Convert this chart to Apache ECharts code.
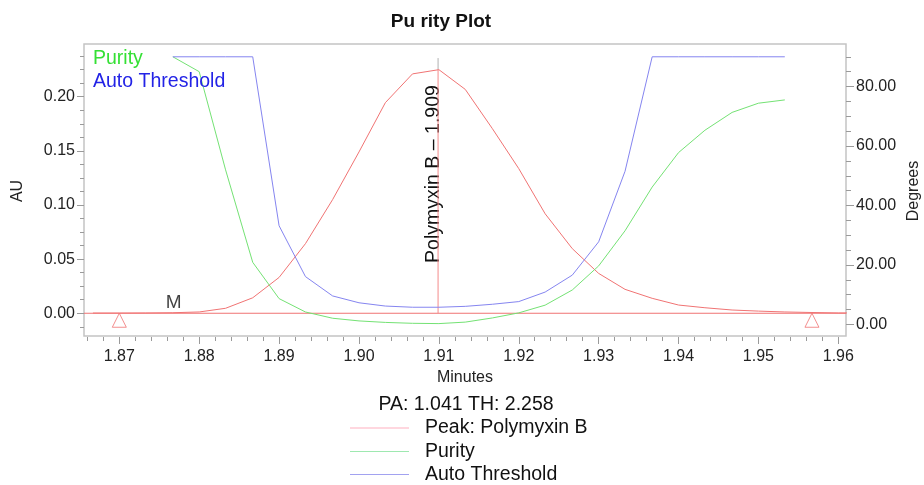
<!DOCTYPE html>
<html>
<head>
<meta charset="utf-8">
<script src="https://cdn.jsdelivr.net/npm/echarts@6/dist/echarts.min.js"></script>
<style>
html,body{margin:0;padding:0;background:#fff;}
#chart{width:924px;height:485px;}
</style>
</head>
<body>
<div id="chart"></div>
<script>
// ---- data ----
const minutes = [1.8667, 1.8700, 1.8733, 1.8767, 1.8800, 1.8833, 1.8867, 1.8900, 1.8933, 1.8967,
                 1.9000, 1.9033, 1.9067, 1.9100, 1.9133, 1.9167, 1.9200, 1.9233, 1.9267, 1.9300,
                 1.9333, 1.9367, 1.9400, 1.9433, 1.9467, 1.9500, 1.9533, 1.9567, 1.9600, 1.9633];
const peakAU = [0.0002, 0.0002, 0.0003, 0.0005, 0.0012, 0.0046, 0.0143, 0.0331, 0.0643, 0.1050,
                0.1490, 0.1945, 0.2211, 0.2250, 0.2068, 0.1705, 0.1336, 0.0919, 0.0597, 0.0368,
                0.0221, 0.0138, 0.0076, 0.0051, 0.0030, 0.0020, 0.0012, 0.0007, 0.0003, 0.0002];
const angleMinutes = [1.8767, 1.8800, 1.8833, 1.8867, 1.8900, 1.8933, 1.8967, 1.9000, 1.9033, 1.9067,
                      1.9100, 1.9133, 1.9167, 1.9200, 1.9233, 1.9267, 1.9300, 1.9333, 1.9367, 1.9400,
                      1.9433, 1.9467, 1.9500, 1.9533];
const purityDeg = [90.0, 85.0, 52.0, 20.9, 8.7, 4.2, 2.1, 1.2, 0.7, 0.4,
                   0.3, 0.8, 2.2, 3.9, 6.5, 11.6, 19.7, 31.5, 46.2, 57.8,
                   65.3, 71.3, 74.4, 75.5];
const thresholdDeg = [90, 90, 90, 90, 33.2, 16.1, 9.6, 7.3, 6.2, 5.8,
                      5.8, 6.1, 6.8, 7.7, 10.9, 16.6, 27.8, 51.5, 90, 90,
                      90, 90, 90, 90];
const peakName = 'Peak: Polymyxin B';
const purityName = 'Purity';
const thresholdName = 'Auto Threshold';
const retentionTime = 1.9099;
const peakLabel = 'Polymyxin B \u2013 1.909';
const peakApexAU = 0.2250;
const retentionLineTopAU = 0.2357;
const peakStartEnd = [1.8700, 1.9567];
const markerLabelMinute = 1.8768;
const markerLabel = 'M';
const statsText = 'PA: 1.041 TH: 2.258';
const titleText = 'Pu rity Plot';
const xMajorTicks = [1.87, 1.88, 1.89, 1.90, 1.91, 1.92, 1.93, 1.94, 1.95, 1.96];
const xMinorTicks = [1.866, 1.868, 1.870, 1.872, 1.874, 1.876, 1.878, 1.880, 1.882, 1.884, 1.886, 1.888,
                     1.890, 1.892, 1.894, 1.896, 1.898, 1.900, 1.902, 1.904, 1.906, 1.908, 1.910, 1.912,
                     1.914, 1.916, 1.918, 1.920, 1.922, 1.924, 1.926, 1.928, 1.930, 1.932, 1.934, 1.936,
                     1.938, 1.940, 1.942, 1.944, 1.946, 1.948, 1.950, 1.952, 1.954, 1.956, 1.958, 1.960];
const auMajorTicks = [0.00, 0.05, 0.10, 0.15, 0.20];
const auMinorTicks = [-0.0125, 0, 0.0125, 0.025, 0.0375, 0.05, 0.0625, 0.075, 0.0875, 0.10, 0.1125,
                      0.125, 0.1375, 0.15, 0.1625, 0.175, 0.1875, 0.20, 0.2125, 0.225, 0.2375];
const degMajorTicks = [0, 20, 40, 60, 80];
const degMinorTicks = [0, 5, 10, 15, 20, 25, 30, 35, 40, 45, 50, 55, 60, 65, 70, 75, 80, 85, 90];

// ---- styling ----
const FONT = "'Liberation Sans', Arial, Helvetica, sans-serif";
const RED = '#f07373', GREEN = '#74e274', BLUE = '#8585f0';
const TICK = '#9a9a9a', LABEL = '#222';
const X_MIN = 1.86558, X_MAX = 1.96096;
const AU_MIN = -0.021, AU_MAX = 0.2487;
const DEG_MIN = -3.87, DEG_MAX = 94.3;

const chart = echarts.init(document.getElementById('chart'), null, {renderer: 'canvas'});

function xAxisDef(ticks, len, labels) {
  return {
    type: 'value', min: X_MIN, max: X_MAX, position: 'bottom', offset: 1,
    axisLine: {show: false, onZero: false}, splitLine: {show: false},
    axisTick: {show: true, customValues: ticks, length: len, lineStyle: {color: TICK, width: 1}},
    axisLabel: labels ? {show: true, customValues: ticks, formatter: v => v.toFixed(2),
      fontFamily: FONT, fontSize: 16, color: LABEL, margin: 12} : {show: false}
  };
}
function yAxisDef(min, max, pos, ticks, len, labels, digits, margin) {
  return {
    type: 'value', min: min, max: max, position: pos,
    axisLine: {show: false, onZero: false}, splitLine: {show: false},
    axisTick: {show: true, customValues: ticks, length: len, lineStyle: {color: TICK, width: 1}},
    axisLabel: labels ? {show: true, customValues: ticks, formatter: v => v.toFixed(digits),
      fontFamily: FONT, fontSize: 16, color: LABEL, margin: margin} : {show: false}
  };
}
function bottomLegend(name, color, top) {
  return {
    selectedMode: false, orient: 'vertical', left: 350, top: top, padding: 0,
    itemWidth: 59, itemHeight: 1, icon: 'rect',
    textStyle: {fontFamily: FONT, fontSize: 19.5, color: '#111', lineHeight: 22, padding: [0, 0, 0, 11]},
    data: [{name: name, itemStyle: {color: color}}]
  };
}
function segment(name, pts, color) {
  return {
    name: name, type: 'line', xAxisIndex: 0, yAxisIndex: 0, symbol: 'none', silent: true,
    lineStyle: {color: color, width: 1, type: 'solid'}, itemStyle: {color: color}, z: 1,
    data: pts
  };
}

const option = {
  animation: false,
  backgroundColor: '#fff',
  grid: {left: 84, right: 78, top: 44, bottom: 149, show: true, borderColor: '#c4c4c4', borderWidth: 1.5, containLabel: false},
  xAxis: [xAxisDef(xMajorTicks, 7, true), xAxisDef(xMinorTicks, 4, false)],
  yAxis: [
    yAxisDef(AU_MIN, AU_MAX, 'left', auMajorTicks, 7, true, 2, 9),
    yAxisDef(DEG_MIN, DEG_MAX, 'right', degMajorTicks, 8, true, 2, 10),
    yAxisDef(AU_MIN, AU_MAX, 'left', auMinorTicks, 4, false),
    yAxisDef(DEG_MIN, DEG_MAX, 'right', degMinorTicks, 5, false)
  ],
  legend: [
    {
      selectedMode: false, orient: 'vertical', left: 88, top: 47, padding: 0, itemWidth: 0, itemHeight: 0, itemGap: 1,
      icon: 'rect',
      textStyle: {fontFamily: FONT, fontSize: 19.5, lineHeight: 22.7},
      data: [
        {name: purityName, textStyle: {color: '#35e035'}},
        {name: thresholdName, textStyle: {color: '#2323e6'}}
      ]
    },
    bottomLegend(peakName, '#ffb0c0', 417),
    bottomLegend(purityName, '#9ee8b0', 440.5),
    bottomLegend(thresholdName, '#a2a2f0', 463.5)
  ],
  series: [
    segment('baseline', [[X_MIN, 0], [X_MAX, 0]], RED),
    segment('rtLine', [[retentionTime, 0], [retentionTime, peakApexAU]], '#f48a8a'),
    segment('rtLineTop', [[retentionTime, peakApexAU], [retentionTime, retentionLineTopAU]], '#b0b0b0'),
    {
      name: peakName, type: 'line', xAxisIndex: 0, yAxisIndex: 0, symbol: 'none', clip: true,
      lineStyle: {color: RED, width: 1}, itemStyle: {color: RED},
      data: minutes.map((m, i) => [m, peakAU[i]])
    },
    {
      name: purityName, type: 'line', xAxisIndex: 0, yAxisIndex: 1, symbol: 'none',
      lineStyle: {color: GREEN, width: 1}, itemStyle: {color: GREEN},
      data: angleMinutes.map((m, i) => [m, purityDeg[i]])
    },
    {
      name: thresholdName, type: 'line', xAxisIndex: 0, yAxisIndex: 1, symbol: 'none',
      lineStyle: {color: BLUE, width: 1}, itemStyle: {color: BLUE},
      data: angleMinutes.map((m, i) => [m, thresholdDeg[i]])
    },
    {
      name: 'markers', type: 'scatter', xAxisIndex: 0, yAxisIndex: 0, symbol: 'triangle',
      symbolSize: [14, 14], symbolOffset: [0, 7], silent: true,
      itemStyle: {color: 'rgba(255,255,255,0)', borderColor: RED, borderWidth: 1},
      data: peakStartEnd.map(m => [m, 0])
    },
    {
      name: 'annot', type: 'scatter', xAxisIndex: 0, yAxisIndex: 0, symbolSize: 0, silent: true,
      label: {show: true, position: 'top', distance: 1, formatter: markerLabel,
        fontFamily: FONT, fontSize: 19, color: '#111'},
      data: [[markerLabelMinute, 0]]
    }
  ],
  graphic: [
    {type: 'text', x: 441, y: 22, style: {text: titleText, font: 'bold 19px ' + FONT, fill: '#111', align: 'center', verticalAlign: 'middle'}},
    {type: 'text', x: 18, y: 191, rotation: Math.PI / 2, style: {text: 'AU', font: '16px ' + FONT, fill: LABEL, align: 'center', verticalAlign: 'middle'}},
    {type: 'text', x: 914, y: 191, rotation: Math.PI / 2, style: {text: 'Degrees', font: '16px ' + FONT, fill: LABEL, align: 'center', verticalAlign: 'middle'}},
    {type: 'text', x: 465, y: 378, style: {text: 'Minutes', font: '16px ' + FONT, fill: LABEL, align: 'center', verticalAlign: 'middle'}},
    {type: 'text', x: 466, y: 405, style: {text: statsText, font: '19.5px ' + FONT, fill: '#111', align: 'center', verticalAlign: 'middle'}}
  ]
};
chart.setOption(option);

const p = chart.convertToPixel({xAxisIndex: 0, yAxisIndex: 0}, [retentionTime, 0.1286]);
chart.setOption({
  graphic: option.graphic.concat([
    {type: 'text', x: p[0] - 4, y: p[1], rotation: Math.PI / 2,
     style: {text: peakLabel, font: '19.5px ' + FONT, fill: '#111', align: 'center', verticalAlign: 'middle'}}
  ])
});
</script>
</body>
</html>
